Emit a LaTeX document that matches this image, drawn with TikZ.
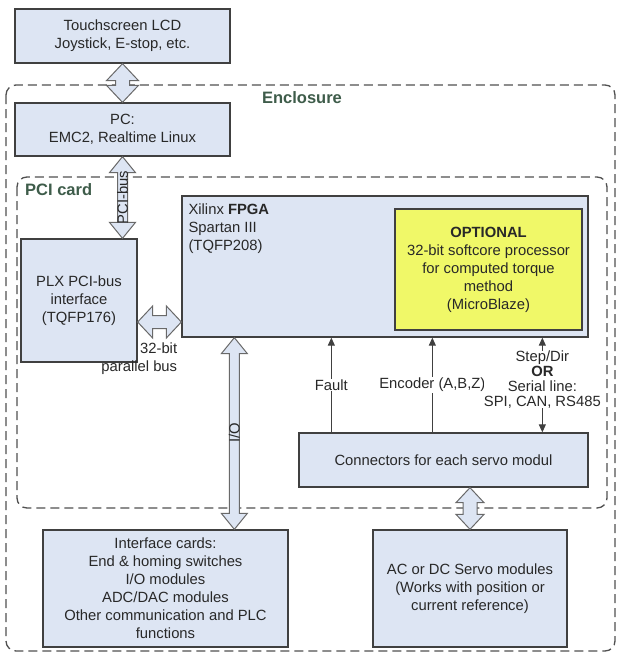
\documentclass[tikz,border=0pt]{standalone}
\usepackage{fontspec}
\setmainfont{Liberation Sans}
\usetikzlibrary{calc,arrows.meta}
\definecolor{boxfill}{RGB}{221,229,243}
\definecolor{boxline}{RGB}{64,64,64}
\definecolor{yel}{RGB}{240,248,104}
\definecolor{grn}{RGB}{62,92,74}
\definecolor{dashc}{RGB}{80,80,80}
\definecolor{arrline}{RGB}{105,105,105}
\definecolor{txt}{RGB}{40,40,40}
\newcommand\mainfs{\fontsize{14.8}{18}\selectfont}
\newcommand\smallfs{\fontsize{14.8}{15}\selectfont}
\newcommand\vbarrow[5]{\draw[barrow] (#1) -- ($(#1)+(#4,#5)$) -- ($(#1)+(#3,#5)$) -- ($(#2)+(#3,-#5)$) -- ($(#2)+(#4,-#5)$) -- (#2) -- ($(#2)+(-#4,-#5)$) -- ($(#2)+(-#3,-#5)$) -- ($(#1)+(-#3,#5)$) -- ($(#1)+(-#4,#5)$) -- cycle;}
\newcommand\hbarrow[5]{\draw[barrow] (#1) -- ($(#1)+(#5,-#4)$) -- ($(#1)+(#5,-#3)$) -- ($(#2)+(-#5,-#3)$) -- ($(#2)+(-#5,-#4)$) -- (#2) -- ($(#2)+(-#5,#4)$) -- ($(#2)+(-#5,#3)$) -- ($(#1)+(#5,#3)$) -- ($(#1)+(#5,#4)$) -- cycle;}
\tikzset{
  box/.style={draw=boxline, fill=boxfill, line width=1.3pt, inner sep=0pt, align=center, font=\mainfs, text=txt},
  ybox/.style={box, fill=yel},
  dashedbox/.style={draw=dashc, line width=1.3pt, dash pattern=on 9pt off 5pt, rounded corners=10pt},
  grp/.style={font=\fontsize{16.5}{18}\selectfont\bfseries, text=grn, inner sep=0pt},
  barrow/.style={draw=arrline, fill=boxfill, line width=1pt, line join=miter},
  sig/.style={draw=boxline, line width=1pt, -{Triangle[length=8pt,width=7pt]}},
  sig2/.style={draw=boxline, line width=1pt, {Triangle[length=8pt,width=7pt]}-{Triangle[length=8pt,width=7pt]}},
  lbl/.style={font=\mainfs, text=txt, fill=white, inner sep=1pt, align=center},
}
\begin{document}
\begin{tikzpicture}[x=1pt,y=-1pt]
\useasboundingbox[fill=white] (0,0) rectangle (618,654);
% groups
\draw[dashedbox] (6,85) rectangle (615,651);
\node[grp] (enc) at (302,98) {Enclosure};
\draw[dashedbox] (17,177) rectangle (607,508);
\node[grp, anchor=west] (pcic) at (25,190) {PCI card};
% boxes
\node[box, minimum width=215pt, minimum height=54pt] (tc) at (122.5,36) {Touchscreen LCD\\Joystick, E-stop, etc.};
\node[box, minimum width=215pt, minimum height=53pt] (pc) at (122.5,129.5) {PC:\\EMC2, Realtime Linux};
\node[box, minimum width=116pt, minimum height=123pt] (plx) at (79,300.5) {PLX PCI-bus\\interface\\(TQFP176)};
\node[box, minimum width=406pt, minimum height=141pt] (fpga) at (385,266.5) {};
\node[anchor=north west, align=left, font=\mainfs, text=txt, inner sep=0pt] (fpgat) at ($(fpga.north west)+(7,8)$) {Xilinx \textbf{FPGA}\\Spartan III\\(TQFP208)};
\node[ybox, minimum width=187pt, minimum height=121pt] (opt) at (488.5,269.5) {\textbf{OPTIONAL}\\32-bit softcore processor\\for computed torque\\method\\(MicroBlaze)};
\node[box, minimum width=289pt, minimum height=54pt] (conn) at (443.5,460) {Connectors for each servo modul};
\node[box, minimum width=245pt, minimum height=117pt] (iface) at (165.5,588.5) {Interface cards:\\End \& homing switches\\I/O modules\\ADC/DAC modules\\Other communication and PLC\\functions};
\node[box, minimum width=194pt, minimum height=117pt] (ac) at (470,588.5) {AC or DC Servo modules\\(Works with position or\\current reference)};
% block arrows
\vbarrow{tc.south}{pc.north}{7}{16}{17}
\coordinate (pb1) at (pc.south);
\coordinate (pb2) at (pc.south |- plx.north);
\vbarrow{pb1}{pb2}{5}{13}{16}
\node[font=\mainfs, text=txt, rotate=90, inner sep=0pt] (pcibus) at ($(pb1)!0.5!(pb2)$) {PCI-bus};
\coordinate (b1) at ($(plx.east)+(0,21.5)$);
\coordinate (b2) at (b1 -| fpga.west);
\hbarrow{b1}{b2}{6.5}{16}{15}
\node[font=\mainfs, text=txt, align=right, anchor=north east, inner sep=0pt] (pbus) at ($(b2)+(-4,21)$) {32-bit\\parallel bus};
\coordinate (io1) at ($(fpga.south west)+(53,0)$);
\coordinate (io2) at (io1 |- iface.north);
\vbarrow{io1}{io2}{5}{13}{16}
\node[font=\mainfs, text=txt, rotate=90, inner sep=0pt] (iol) at ($(io1)+(0,95)$) {I/O};
\coordinate (ca1) at (ac.north |- conn.south);
\coordinate (ca2) at (ac.north);
\vbarrow{ca1}{ca2}{7}{14}{15}
% signals
\coordinate (f1) at ($(conn.north west)+(33,0)$);
\coordinate (e1) at ($(conn.north west)+(134,0)$);
\coordinate (s1) at ($(conn.north west)+(244,0)$);
\draw[sig] (f1) -- (f1 |- fpga.south) node[lbl, pos=0.5] (fl) {Fault};
\draw[sig] (e1) -- (e1 |- fpga.south) node[lbl, pos=0.5] (el) {Encoder (A,B,Z)};
\draw[sig2] (s1) -- (s1 |- fpga.south);
\node[lbl, font=\smallfs, inner sep=0pt] (sl) at ($(s1)+(0,-53)$) {Step/Dir\\\textbf{OR}\\Serial line:\\SPI, CAN, RS485};
\end{tikzpicture}
\end{document}
